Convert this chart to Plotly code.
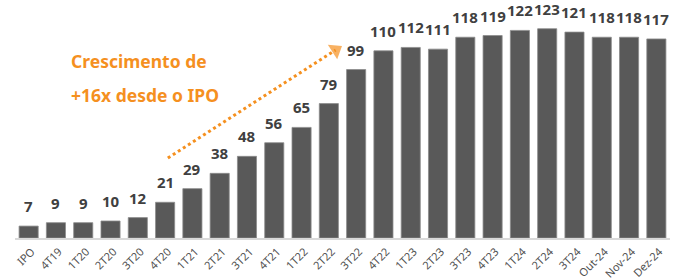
import plotly.graph_objects as go

categories = ["IPO", "4T19", "1T20", "2T20", "3T20", "4T20", "1T21", "2T21", "3T21", "4T21",
              "1T22", "2T22", "3T22", "4T22", "1T23", "2T23", "3T23", "4T23", "1T24", "2T24",
              "3T24", "Out-24", "Nov-24", "Dez-24"]
values = [7, 9, 9, 10, 12, 21, 29, 38, 48, 56, 65, 79, 99, 110, 112, 111, 118, 119, 122, 123,
          121, 118, 118, 117]

annotation_lines = ["Crescimento de", "+16x desde o IPO"]
arrow_x = [5.1, 11.25]
arrow_y = [47, 110.5]

xs = list(range(len(categories)))
orange = "#F5901F"
label_color = "#404040"

fig = go.Figure()
fig.add_trace(go.Bar(
    x=xs, y=values,
    marker=dict(color="#595959", line=dict(width=0.8, color="#8C8C8C")),
    hoverinfo="skip",
))
fig.add_trace(go.Scatter(
    x=arrow_x, y=arrow_y,
    mode="lines+markers",
    line=dict(color=orange, width=3, dash="dot"),
    marker=dict(symbol="triangle-up", size=[0, 15], color=orange, angleref="previous",
                line=dict(width=0)),
    hoverinfo="skip",
    cliponaxis=False,
))

for x, v in zip(xs, values):
    fig.add_annotation(
        x=x, y=v, text=str(v), showarrow=False, borderpad=0,
        xanchor="center", yanchor="middle", yshift=20,
        font=dict(family="Noto Sans", size=15, color=label_color, weight="bold"),
    )

for i, line in enumerate(annotation_lines):
    fig.add_annotation(
        text=line, xref="paper", yref="paper",
        x=0.083, y=[0.776, 0.627][i], xanchor="left", yanchor="middle",
        showarrow=False,
        font=dict(family="Noto Sans", size=17.5, color=orange, weight="bold"),
    )

fig.update_layout(
    width=685, height=280,
    margin=dict(l=15, r=15, t=10, b=42, autoexpand=False),
    paper_bgcolor="white", plot_bgcolor="white",
    showlegend=False,
    bargap=0.30,
    xaxis=dict(
        tickmode="array", tickvals=xs, ticktext=categories,
        range=[-0.5, len(categories) - 0.5],
        tickangle=-45, showgrid=False, zeroline=False, automargin=False,
        showline=True, linecolor="#D9D9D9", linewidth=2,
        tickfont=dict(family="Noto Sans", size=11, color="#505050"),
        ticks="", ticklabelstandoff=1, ticklabelshift=3,
    ),
    yaxis=dict(range=[0, 134], visible=False, showgrid=False, fixedrange=True),
)

fig.write_html("out.html", config={"displayModeBar": False},
               post_script="document.body.style.margin='0';")
